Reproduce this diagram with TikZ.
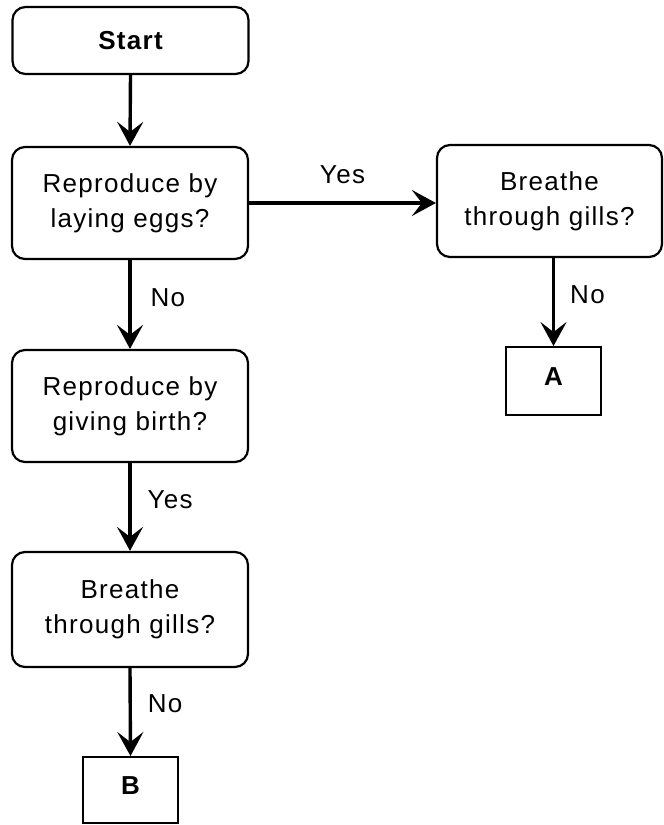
\documentclass[tikz,border=0pt]{standalone}
\usepackage{fontspec}
\setmainfont{Liberation Sans}[LetterSpace=5]
\usetikzlibrary{arrows.meta}
\begin{document}
\begin{tikzpicture}[x=1pt,y=-1pt,
  every node/.style={font=\fontsize{26}{35}\selectfont},
  rbox/.style={draw, line width=2.2pt, rounded corners=13pt, align=center, inner sep=0pt, minimum width=236pt},
  sbox/.style={draw, line width=1.9pt, inner sep=0pt, font=\fontsize{26}{35}\selectfont\bfseries},
  conn/.style={line width=3.4pt, -{Stealth[length=24pt,width=26pt,inset=10pt]}},
  lbl/.style={inner sep=0pt, anchor=west}]
\useasboundingbox (0,0) rectangle (664,825);
\node[rbox, minimum height=67pt, font=\fontsize{26}{35}\selectfont\bfseries] (start) at (130.5,40.5) {Start};
\node[rbox, minimum height=112pt] (q1) at (130,203) {Reproduce by\\laying eggs?};
\node[rbox, minimum width=225pt, minimum height=112pt] (q2) at (549.5,201) {Breathe\\through gills?};
\node[rbox, minimum height=112pt] (q3) at (130,406) {Reproduce by\\giving birth?};
\node[rbox, minimum height=115pt] (q4) at (130,609.5) {Breathe\\through gills?};
\node[sbox, minimum width=95pt, minimum height=68pt] (A) at (553.5,381) {\raisebox{8pt}{A}};
\node[sbox, minimum width=95pt, minimum height=66pt] (B) at (130.5,790) {\raisebox{8pt}{B}};
\draw[conn] (start.south) -- (q1.north);
\draw[conn] (q1.east) -- (q1.east -| q2.west) node[inner sep=0pt, midway, yshift=28pt] {Yes};
\draw[conn] (q1.south) -- (q3.north) node[lbl, pos=0.42, xshift=19pt] {No};
\draw[conn] (A.north |- q2.south) -- (A.north) node[lbl, pos=0.42, xshift=15pt] {No};
\draw[conn] (q3.south) -- (q4.north) node[lbl, pos=0.42, xshift=16pt] {Yes};
\draw[conn] (q4.south) -- (B.north) node[lbl, pos=0.4, xshift=16pt] {No};
\end{tikzpicture}
\end{document}
